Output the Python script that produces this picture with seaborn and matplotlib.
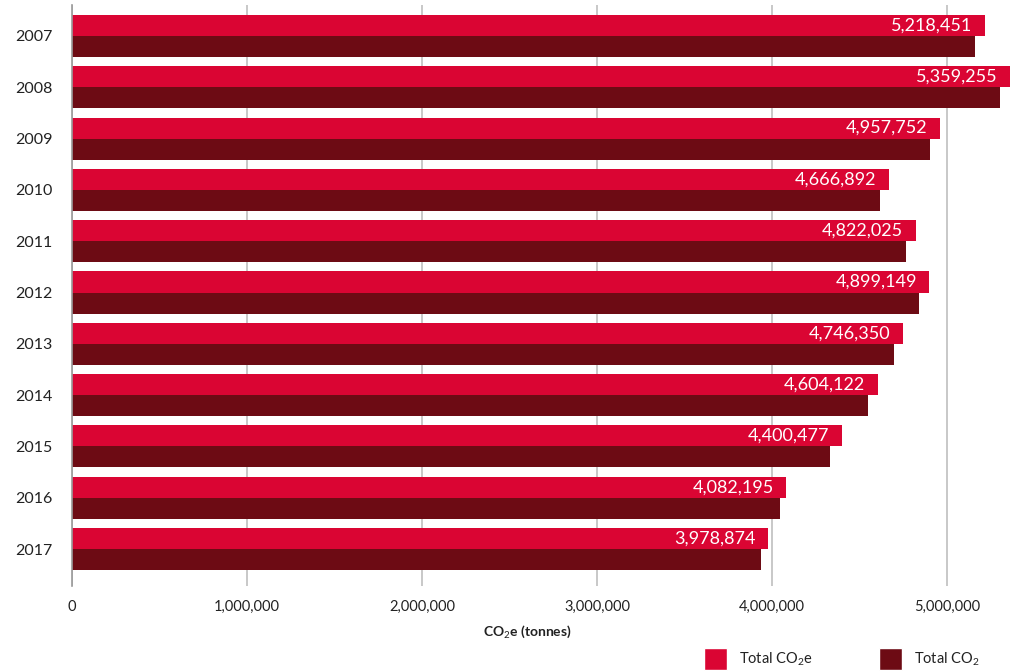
import matplotlib
matplotlib.use("Agg")
import matplotlib.pyplot as plt
import seaborn as sns
import pandas as pd
from matplotlib.patches import Patch
from matplotlib.ticker import FuncFormatter

years = ["2007", "2008", "2009", "2010", "2011", "2012", "2013", "2014", "2015", "2016", "2017"]
total_co2e = [5218451, 5359255, 4957752, 4666892, 4822025, 4899149, 4746350, 4604122, 4400477, 4082195, 3978874]
total_co2 = [5160000, 5300000, 4900000, 4615000, 4765000, 4842000, 4695000, 4550000, 4330000, 4045000, 3935000]
series_names = ["Total CO$_2$e", "Total CO$_2$"]
x_ticks = [0, 1000000, 2000000, 3000000, 4000000, 5000000]

colors = ["#DA0533", "#6D0B14"]

sns.set_theme(style="white")
plt.rcParams["font.family"] = ["Lato", "DejaVu Sans"]
plt.rcParams["mathtext.fontset"] = "custom"
plt.rcParams["mathtext.rm"] = "Lato"
plt.rcParams["mathtext.it"] = "Lato"
plt.rcParams["mathtext.bf"] = "Lato:bold"

df = pd.DataFrame({
    "Year": years * 2,
    "Value": total_co2e + total_co2,
    "Series": [series_names[0]] * len(years) + [series_names[1]] * len(years),
})

fig = plt.figure(figsize=(10.18, 6.71), dpi=100)
ax = fig.add_axes([72 / 1018, 1 - 586 / 671, (1017 - 72) / 1018, (586 - 5) / 671])

sns.barplot(data=df, y="Year", x="Value", hue="Series", orient="h",
            palette=colors, width=0.82, gap=0, saturation=1, ax=ax, legend=False,
            order=years, hue_order=series_names, errorbar=None, linewidth=0)

ax.set_xlim(0, 5400000)
ax.set_ylim(10.72, -0.604)
ax.set_xticks(x_ticks)
ax.xaxis.set_major_formatter(FuncFormatter(lambda v, p: f"{int(v):,}"))
ax.grid(axis="x", color="#c8c8c8", linewidth=1.4)
ax.set_axisbelow(True)
for s in ["top", "right", "bottom"]:
    ax.spines[s].set_visible(False)
ax.spines["left"].set_color("#9a9a9a")
ax.spines["left"].set_linewidth(1.2)
ax.tick_params(axis="x", length=0, pad=10, labelsize=10.5, labelcolor="#222222")
ax.tick_params(axis="y", length=0, pad=14, labelsize=11.5, labelcolor="#222222")
ax.set_ylabel("")
ax.set_xlabel("CO$_2$e (tonnes)", fontsize=10, fontweight="bold", color="#222222", labelpad=8)
ax.xaxis.set_label_coords((527 - 72) / 945, -0.065)

# value labels inside the red bars
red_container = ax.containers[0]
for bar, val in zip(red_container.patches, total_co2e):
    ax.annotate(f"{val:,}", xy=(bar.get_x() + bar.get_width(), bar.get_y() + bar.get_height() / 2),
                xytext=(-9, 0), textcoords="offset points", ha="right", va="center",
                color="white", fontsize=13, fontweight="normal")

handles = [Patch(facecolor=colors[0], label=series_names[0]),
           Patch(facecolor=colors[1], label=series_names[1])]
fig.legend(handles=handles, loc="center left", bbox_to_anchor=(691 / 1018, 1 - 659 / 671), ncol=2,
           frameon=False, fontsize=10.5, handlelength=1.6, handleheight=1.9,
           handletextpad=0.8, columnspacing=4.5, labelcolor="#222222")

fig.savefig("out.png", dpi=100)
